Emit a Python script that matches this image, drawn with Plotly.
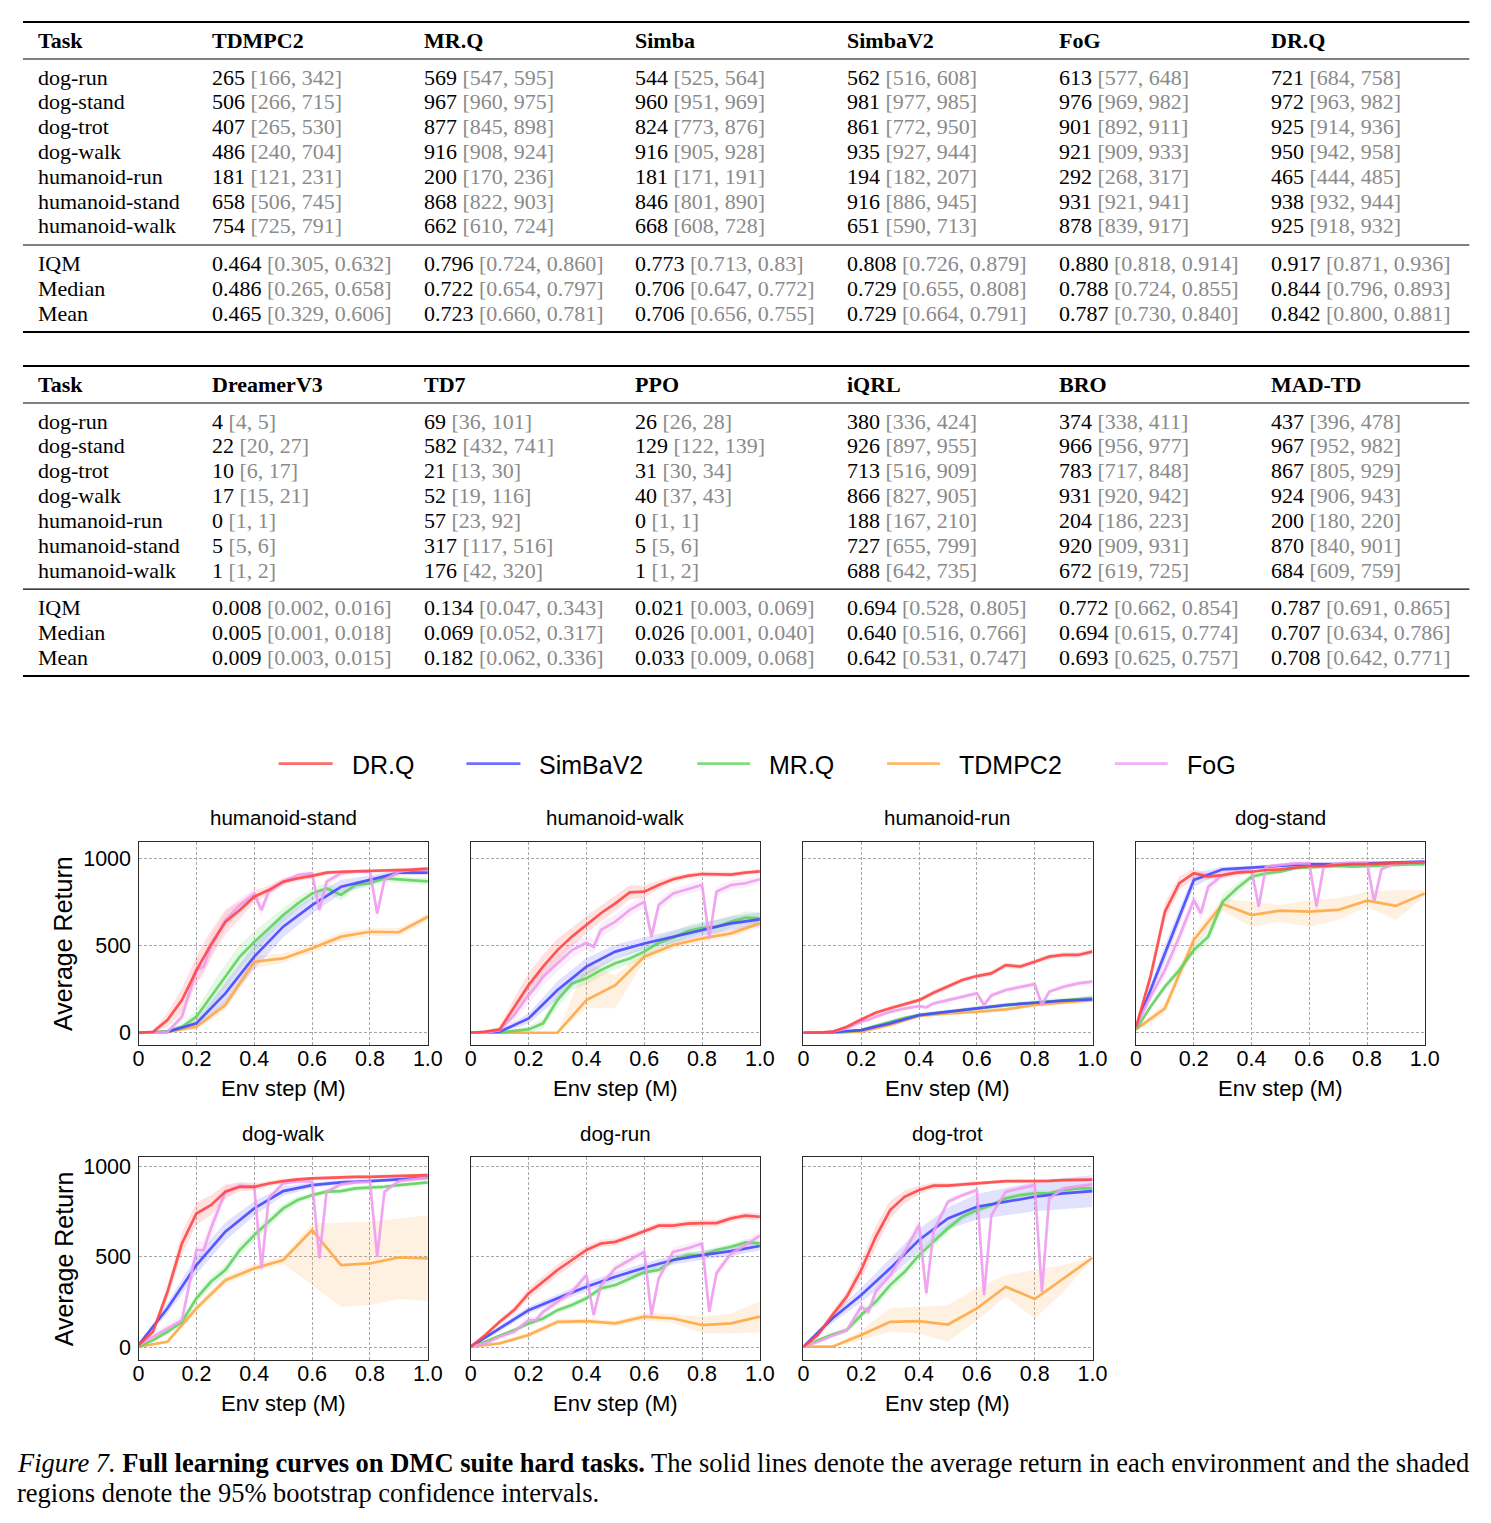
import plotly.graph_objects as go

W, H = 1491, 1523
# small calibration of the page-to-screenshot mapping observed in the renderer
X_OFF, X_SCALE = 5.0, 0.987
Y_TOP_SHIFT = 3.0
TEXT_XSHIFT = -3  # compensates the annotation box padding for left-aligned text


def fx(p):
    return (p - X_OFF) / X_SCALE / W


def fy(p):
    return 1 - (p - Y_TOP_SHIFT * max(0.0, 1 - p / 1493)) / H


# ------------------------------------------------------------------ tables
TABLE_TASKS = ["dog-run", "dog-stand", "dog-trot", "dog-walk",
               "humanoid-run", "humanoid-stand", "humanoid-walk"]
AGG_NAMES = ["IQM", "Median", "Mean"]

TDMPC2_TABLE = [("265", "166", "342"), ("506", "266", "715"), ("407", "265", "530"), ("486", "240", "704"),
                ("181", "121", "231"), ("658", "506", "745"), ("754", "725", "791"),
                ("0.464", "0.305", "0.632"), ("0.486", "0.265", "0.658"), ("0.465", "0.329", "0.606")]
MRQ_TABLE = [("569", "547", "595"), ("967", "960", "975"), ("877", "845", "898"), ("916", "908", "924"),
             ("200", "170", "236"), ("868", "822", "903"), ("662", "610", "724"),
             ("0.796", "0.724", "0.860"), ("0.722", "0.654", "0.797"), ("0.723", "0.660", "0.781")]
SIMBA_TABLE = [("544", "525", "564"), ("960", "951", "969"), ("824", "773", "876"), ("916", "905", "928"),
               ("181", "171", "191"), ("846", "801", "890"), ("668", "608", "728"),
               ("0.773", "0.713", "0.83"), ("0.706", "0.647", "0.772"), ("0.706", "0.656", "0.755")]
SIMBAV2_TABLE = [("562", "516", "608"), ("981", "977", "985"), ("861", "772", "950"), ("935", "927", "944"),
                 ("194", "182", "207"), ("916", "886", "945"), ("651", "590", "713"),
                 ("0.808", "0.726", "0.879"), ("0.729", "0.655", "0.808"), ("0.729", "0.664", "0.791")]
FOG_TABLE = [("613", "577", "648"), ("976", "969", "982"), ("901", "892", "911"), ("921", "909", "933"),
             ("292", "268", "317"), ("931", "921", "941"), ("878", "839", "917"),
             ("0.880", "0.818", "0.914"), ("0.788", "0.724", "0.855"), ("0.787", "0.730", "0.840")]
DRQ_TABLE = [("721", "684", "758"), ("972", "963", "982"), ("925", "914", "936"), ("950", "942", "958"),
             ("465", "444", "485"), ("938", "932", "944"), ("925", "918", "932"),
             ("0.917", "0.871", "0.936"), ("0.844", "0.796", "0.893"), ("0.842", "0.800", "0.881")]
DREAMERV3_TABLE = [("4", "4", "5"), ("22", "20", "27"), ("10", "6", "17"), ("17", "15", "21"),
                   ("0", "1", "1"), ("5", "5", "6"), ("1", "1", "2"),
                   ("0.008", "0.002", "0.016"), ("0.005", "0.001", "0.018"), ("0.009", "0.003", "0.015")]
TD7_TABLE = [("69", "36", "101"), ("582", "432", "741"), ("21", "13", "30"), ("52", "19", "116"),
             ("57", "23", "92"), ("317", "117", "516"), ("176", "42", "320"),
             ("0.134", "0.047", "0.343"), ("0.069", "0.052", "0.317"), ("0.182", "0.062", "0.336")]
PPO_TABLE = [("26", "26", "28"), ("129", "122", "139"), ("31", "30", "34"), ("40", "37", "43"),
             ("0", "1", "1"), ("5", "5", "6"), ("1", "1", "2"),
             ("0.021", "0.003", "0.069"), ("0.026", "0.001", "0.040"), ("0.033", "0.009", "0.068")]
IQRL_TABLE = [("380", "336", "424"), ("926", "897", "955"), ("713", "516", "909"), ("866", "827", "905"),
              ("188", "167", "210"), ("727", "655", "799"), ("688", "642", "735"),
              ("0.694", "0.528", "0.805"), ("0.640", "0.516", "0.766"), ("0.642", "0.531", "0.747")]
BRO_TABLE = [("374", "338", "411"), ("966", "956", "977"), ("783", "717", "848"), ("931", "920", "942"),
             ("204", "186", "223"), ("920", "909", "931"), ("672", "619", "725"),
             ("0.772", "0.662", "0.854"), ("0.694", "0.615", "0.774"), ("0.693", "0.625", "0.757")]
MADTD_TABLE = [("437", "396", "478"), ("967", "952", "982"), ("867", "805", "929"), ("924", "906", "943"),
               ("200", "180", "220"), ("870", "840", "901"), ("684", "609", "759"),
               ("0.787", "0.691", "0.865"), ("0.707", "0.634", "0.786"), ("0.708", "0.642", "0.771")]

TABLE1 = [("TDMPC2", TDMPC2_TABLE), ("MR.Q", MRQ_TABLE), ("Simba", SIMBA_TABLE),
          ("SimbaV2", SIMBAV2_TABLE), ("FoG", FOG_TABLE), ("DR.Q", DRQ_TABLE)]
TABLE2 = [("DreamerV3", DREAMERV3_TABLE), ("TD7", TD7_TABLE), ("PPO", PPO_TABLE),
          ("iQRL", IQRL_TABLE), ("BRO", BRO_TABLE), ("MAD-TD", MADTD_TABLE)]

# ------------------------------------------------------------------ curves
PLOT_TASKS = ["humanoid-stand", "humanoid-walk", "humanoid-run", "dog-stand",
              "dog-walk", "dog-run", "dog-trot"]

X_FINE = [0.0, 0.05, 0.1, 0.15, 0.2, 0.25, 0.3, 0.35, 0.4, 0.45, 0.5,
          0.55, 0.6, 0.65, 0.7, 0.75, 0.8, 0.85, 0.9, 0.95, 1.0]
X_COARSE = [0.0, 0.1, 0.2, 0.3, 0.4, 0.5, 0.6, 0.7, 0.8, 0.9, 1.0]
X_FOG = [0.0, 0.05, 0.1, 0.15, 0.2, 0.225, 0.25, 0.3, 0.35, 0.4, 0.425, 0.45, 0.5,
         0.55, 0.6, 0.625, 0.65, 0.7, 0.75, 0.8, 0.825, 0.85, 0.9, 0.95, 1.0]

DRQ_MEAN = {
    "humanoid-stand": [0, 5, 73, 187, 358, 505, 635, 704, 780, 818, 866, 885, 899, 918, 923, 925, 929, 929, 931, 935, 941],
    "humanoid-walk": [0, 6, 19, 149, 273, 379, 474, 551, 618, 685, 742, 805, 809, 847, 880, 899, 910, 910, 906, 918, 925],
    "humanoid-run": [0, 0, 6, 34, 76, 115, 140, 164, 187, 229, 264, 302, 325, 340, 388, 379, 407, 436, 446, 446, 465],
    "dog-stand": [34, 321, 694, 857, 914, 895, 904, 918, 923, 933, 937, 948, 956, 956, 962, 967, 967, 971, 971, 975, 977],
    "dog-walk": [15, 88, 308, 574, 739, 785, 859, 886, 886, 904, 917, 927, 932, 936, 938, 941, 941, 943, 947, 950, 950],
    "dog-run": [6, 70, 143, 207, 299, 363, 428, 483, 538, 574, 583, 611, 642, 672, 672, 683, 686, 686, 712, 727, 721],
    "dog-trot": [6, 70, 180, 281, 428, 611, 758, 831, 868, 892, 892, 899, 905, 910, 917, 917, 917, 919, 923, 925, 925],
}
DRQ_CI = {
    "humanoid-stand": [0, 5, 40, 70, 80, 80, 70, 50, 35, 25, 20, 15, 15, 12, 10, 10, 10, 10, 10, 10, 10],
    "humanoid-walk": [0, 3, 15, 50, 70, 70, 65, 55, 50, 45, 45, 40, 35, 25, 20, 15, 15, 15, 15, 12, 12],
    "humanoid-run": [0, 0, 3, 8, 12, 12, 12, 12, 14, 14, 14, 14, 14, 14, 15, 15, 15, 15, 15, 15, 15],
    "dog-stand": [10, 40, 50, 40, 25, 20, 15, 15, 12, 10, 10, 10, 8, 8, 8, 8, 8, 8, 8, 8, 8],
    "dog-walk": [5, 15, 40, 60, 60, 55, 40, 25, 20, 15, 12, 10, 10, 10, 10, 10, 10, 10, 10, 10, 10],
    "dog-run": [3, 10, 15, 20, 30, 30, 30, 30, 25, 20, 20, 18, 18, 18, 18, 18, 18, 18, 18, 18, 18],
    "dog-trot": [3, 12, 20, 30, 50, 60, 50, 35, 25, 18, 15, 12, 12, 10, 10, 10, 10, 10, 10, 10, 10],
}

SIMBAV2_MEAN = {
    "humanoid-stand": [0, 5, 54, 226, 436, 608, 732, 837, 876, 918, 918],
    "humanoid-walk": [0, 6, 82, 245, 379, 465, 512, 551, 589, 627, 650],
    "humanoid-run": [0, 4, 15, 54, 101, 120, 140, 159, 172, 184, 191],
    "dog-stand": [34, 455, 876, 937, 948, 958, 967, 967, 971, 975, 981],
    "dog-walk": [15, 217, 455, 639, 767, 862, 895, 910, 917, 925, 936],
    "dog-run": [6, 106, 207, 272, 336, 391, 440, 483, 510, 532, 560],
    "dog-trot": [6, 161, 290, 437, 593, 712, 776, 804, 831, 850, 862],
}
SIMBAV2_CI = {
    "humanoid-stand": [0, 5, 20, 60, 70, 60, 50, 40, 25, 15, 15],
    "humanoid-walk": [0, 5, 30, 50, 50, 40, 35, 35, 35, 40, 40],
    "humanoid-run": [0, 2, 5, 10, 10, 10, 10, 10, 10, 10, 10],
    "dog-stand": [10, 50, 40, 15, 10, 8, 8, 8, 8, 8, 8],
    "dog-walk": [5, 30, 50, 50, 40, 25, 15, 12, 10, 10, 10],
    "dog-run": [3, 15, 20, 20, 25, 25, 25, 25, 25, 25, 25],
    "dog-trot": [3, 25, 40, 55, 60, 60, 70, 75, 80, 85, 87],
}

MRQ_MEAN = {
    "humanoid-stand": [0, 0, 10, 34, 92, 206, 321, 436, 520, 600, 675, 740, 799, 828, 790, 847, 857, 885, 880, 876, 868],
    "humanoid-walk": [0, 0, 2, 11, 19, 54, 187, 283, 312, 359, 398, 426, 465, 516, 545, 583, 602, 608, 637, 660, 656],
    "humanoid-run": [0, 0, 2, 6, 15, 40, 63, 85, 101, 112, 120, 130, 140, 150, 159, 166, 172, 180, 187, 193, 200],
    "dog-stand": [19, 149, 264, 359, 474, 551, 751, 828, 895, 914, 924, 943, 948, 952, 956, 952, 956, 956, 962, 965, 967],
    "dog-walk": [6, 42, 88, 143, 272, 363, 428, 538, 620, 693, 767, 813, 840, 859, 862, 877, 881, 886, 895, 904, 910],
    "dog-run": [6, 33, 66, 97, 134, 161, 207, 235, 272, 327, 345, 382, 415, 428, 483, 510, 510, 538, 556, 580, 574],
    "dog-trot": [6, 42, 73, 97, 180, 253, 345, 418, 510, 584, 657, 721, 758, 785, 822, 840, 850, 850, 868, 877, 877],
}
MRQ_CI = {
    "humanoid-stand": [0, 0, 10, 20, 40, 60, 70, 70, 60, 50, 40, 35, 30, 30, 30, 25, 20, 20, 20, 20, 20],
    "humanoid-walk": [0, 0, 3, 10, 20, 30, 40, 40, 35, 35, 35, 35, 40, 35, 35, 35, 35, 40, 35, 35, 35],
    "humanoid-run": [0, 0, 2, 4, 6, 8, 10, 10, 12, 12, 12, 12, 14, 14, 14, 14, 14, 14, 15, 15, 15],
    "dog-stand": [8, 15, 20, 25, 30, 40, 40, 30, 20, 15, 12, 10, 10, 10, 10, 10, 10, 10, 10, 8, 8],
    "dog-walk": [3, 10, 15, 20, 25, 30, 30, 30, 30, 30, 25, 20, 15, 15, 15, 15, 15, 12, 12, 12, 12],
    "dog-run": [3, 8, 10, 12, 15, 15, 15, 18, 18, 18, 18, 18, 18, 18, 18, 18, 18, 18, 18, 18, 18],
    "dog-trot": [3, 8, 12, 15, 20, 25, 30, 30, 30, 30, 25, 20, 20, 15, 15, 15, 15, 15, 15, 15, 15],
}

TDMPC2_MEAN = {
    "humanoid-stand": [0, 5, 34, 159, 407, 426, 484, 551, 579, 576, 665],
    "humanoid-walk": [0, 0, 0, 0, 187, 273, 436, 503, 541, 570, 627],
    "humanoid-run": [0, 0, 6, 44, 96, 111, 120, 134, 159, 172, 187],
    "dog-stand": [19, 140, 532, 738, 675, 700, 694, 704, 757, 727, 799],
    "dog-walk": [6, 33, 217, 372, 437, 483, 648, 455, 464, 497, 492],
    "dog-run": [6, 24, 70, 143, 147, 134, 171, 161, 125, 134, 171],
    "dog-trot": [6, 6, 70, 143, 147, 128, 217, 336, 268, 382, 495],
}
TDMPC2_LO = {
    "humanoid-stand": [0, 0, 20, 130, 370, 400, 460, 525, 555, 555, 645],
    "humanoid-walk": [0, 0, 0, 0, 140, 140, 410, 480, 520, 550, 605],
    "humanoid-run": [0, 0, 2, 35, 86, 100, 110, 124, 147, 160, 175],
    "dog-stand": [10, 110, 490, 700, 608, 637, 608, 646, 723, 646, 780],
    "dog-walk": [2, 25, 195, 350, 415, 460, 345, 226, 235, 268, 257],
    "dog-run": [3, 16, 55, 128, 132, 119, 151, 136, 80, 79, 86],
    "dog-trot": [2, 2, 42, 88, 79, 33, 152, 281, 161, 308, 490],
}
TDMPC2_HI = {
    "humanoid-stand": [0, 10, 50, 190, 440, 455, 510, 575, 600, 600, 685],
    "humanoid-walk": [0, 0, 0, 0, 400, 330, 460, 525, 560, 590, 650],
    "humanoid-run": [0, 0, 10, 53, 106, 122, 130, 144, 171, 184, 199],
    "dog-stand": [30, 170, 570, 770, 751, 732, 761, 771, 809, 818, 818],
    "dog-walk": [10, 42, 240, 395, 460, 505, 684, 690, 694, 712, 730],
    "dog-run": [9, 32, 85, 158, 162, 149, 191, 186, 170, 189, 256],
    "dog-trot": [10, 10, 97, 217, 226, 235, 327, 400, 428, 455, 500],
}

FOG_MEAN = {
    "humanoid-stand": [0, 0, 5, 92, 360, 380, 493, 646, 732, 793, 704, 809, 866, 904, 914, 704, 866, 914, 923, 923, 684, 876, 923, 937, 937],
    "humanoid-walk": [0, 0, 15, 101, 216, 264, 321, 398, 474, 516, 493, 589, 637, 704, 751, 551, 732, 799, 822, 847, 541, 809, 847, 857, 880],
    "humanoid-run": [0, 0, 6, 25, 63, 75, 92, 120, 139, 153, 145, 168, 187, 206, 226, 159, 214, 245, 264, 279, 159, 235, 264, 283, 293],
    "dog-stand": [34, 207, 360, 551, 761, 685, 837, 904, 923, 933, 723, 952, 962, 971, 971, 723, 952, 971, 975, 975, 751, 937, 971, 975, 977],
    "dog-walk": [15, 61, 110, 152, 538, 538, 657, 859, 892, 886, 437, 822, 905, 917, 914, 492, 859, 899, 910, 914, 501, 859, 917, 928, 936],
    "dog-run": [6, 24, 61, 88, 152, 152, 198, 253, 308, 400, 180, 345, 437, 483, 528, 180, 382, 528, 547, 574, 198, 411, 519, 565, 617],
    "dog-trot": [6, 33, 66, 97, 226, 198, 308, 400, 528, 675, 299, 640, 804, 840, 868, 290, 730, 859, 877, 895, 308, 822, 877, 886, 899],
}
FOG_CI = {
    "humanoid-stand": [0, 0, 5, 30, 60, 60, 60, 50, 40, 30, 40, 30, 20, 15, 15, 40, 20, 15, 12, 12, 40, 20, 12, 10, 10],
    "humanoid-walk": [0, 0, 10, 40, 50, 50, 50, 50, 45, 40, 40, 40, 40, 35, 35, 40, 35, 30, 30, 30, 40, 30, 25, 25, 20],
    "humanoid-run": [0, 0, 3, 8, 10, 10, 10, 12, 12, 12, 12, 12, 14, 14, 14, 14, 14, 15, 15, 15, 15, 15, 15, 15, 15],
    "dog-stand": [10, 30, 40, 50, 40, 40, 30, 20, 15, 12, 30, 10, 8, 8, 8, 30, 10, 8, 8, 8, 30, 10, 8, 8, 8],
    "dog-walk": [5, 15, 20, 30, 50, 50, 50, 30, 15, 15, 40, 20, 10, 10, 10, 40, 15, 10, 10, 10, 40, 15, 10, 10, 10],
    "dog-run": [3, 8, 12, 15, 20, 20, 20, 20, 25, 25, 30, 25, 25, 25, 25, 30, 25, 25, 25, 25, 30, 25, 25, 25, 25],
    "dog-trot": [3, 8, 12, 15, 25, 25, 30, 30, 30, 40, 40, 30, 20, 15, 15, 40, 20, 12, 12, 12, 40, 20, 12, 12, 12],
}

X_TICKS = [0, 0.2, 0.4, 0.6, 0.8, 1.0]
X_TICK_TEXT = ["0", "0.2", "0.4", "0.6", "0.8", "1.0"]
Y_TICKS = [0, 500, 1000]

LEGEND_ORDER = ["DR.Q", "SimBaV2", "MR.Q", "TDMPC2", "FoG"]
COLORS = {"DR.Q": "255,70,70", "SimBaV2": "72,72,255", "MR.Q": "95,211,95",
          "TDMPC2": "255,168,69", "FoG": "238,156,238"}


def band_from_ci(mean, ci):
    return [m - c for m, c in zip(mean, ci)], [m + c for m, c in zip(mean, ci)]


SERIES = [  # bottom -> top
    ("TDMPC2", X_COARSE, TDMPC2_MEAN, lambda t: (TDMPC2_LO[t], TDMPC2_HI[t])),
    ("MR.Q", X_FINE, MRQ_MEAN, lambda t: band_from_ci(MRQ_MEAN[t], MRQ_CI[t])),
    ("SimBaV2", X_COARSE, SIMBAV2_MEAN, lambda t: band_from_ci(SIMBAV2_MEAN[t], SIMBAV2_CI[t])),
    ("FoG", X_FOG, FOG_MEAN, lambda t: band_from_ci(FOG_MEAN[t], FOG_CI[t])),
    ("DR.Q", X_FINE, DRQ_MEAN, lambda t: band_from_ci(DRQ_MEAN[t], DRQ_CI[t])),
]

# panel geometry (pixels)
COL_PX = [(137.7, 427.3), (470.3, 759.7), (803.3, 1092.7), (1136.3, 1425.3)]
ROW_PX = [(841.7, 1045.0), (1157.3, 1360.0)]
ROW_YRANGE = [[-70.5, 1095], [-67.7, 1048]]

SANS = "Liberation Sans, Arial, sans-serif"
SERIF = "Liberation Serif, Times New Roman, serif"

fig = go.Figure()
annotations = []
shapes = []

for i, task in enumerate(PLOT_TASKS):
    r, c = divmod(i, 4)
    n = i + 1
    xa = "x" if n == 1 else f"x{n}"
    ya = "y" if n == 1 else f"y{n}"
    for name, xs, means, bandf in SERIES:
        lo, hi = bandf(task)
        fig.add_trace(go.Scatter(
            x=xs + xs[::-1], y=hi + lo[::-1], fill="toself",
            fillcolor=f"rgba({COLORS[name]},0.16)", line=dict(width=0),
            mode="lines", hoverinfo="skip", showlegend=False, xaxis=xa, yaxis=ya))
    for name, xs, means, bandf in SERIES:
        fig.add_trace(go.Scatter(
            x=xs, y=means[task], mode="lines", name=name,
            line=dict(color=f"rgba({COLORS[name]},0.9)", width=2.7),
            showlegend=False, xaxis=xa, yaxis=ya))

    x0, x1 = COL_PX[c]
    y0, y1 = ROW_PX[r]
    axis_common = dict(showgrid=True, gridcolor="#a8a8a8", griddash="3px,2px", gridwidth=1,
                       showline=True, mirror=True, linecolor="#2a2a2a", linewidth=1.4,
                       ticks="", zeroline=False,
                       tickfont=dict(family=SANS, size=21.5, color="black"))
    fig.layout[("xaxis" if n == 1 else f"xaxis{n}")] = dict(
        domain=[fx(x0), fx(x1)], range=[0, 1], anchor=ya,
        tickvals=X_TICKS, ticktext=X_TICK_TEXT, ticklabelstandoff=-6, **axis_common)
    fig.layout[("yaxis" if n == 1 else f"yaxis{n}")] = dict(
        domain=[fy(y1), fy(y0)], range=ROW_YRANGE[r], anchor=xa,
        tickvals=Y_TICKS, showticklabels=(c == 0), ticklabelstandoff=2, **axis_common)

    cx = fx((x0 + x1) / 2)
    annotations.append(dict(text=task, x=cx, y=fy(y0 - 24), xref="paper", yref="paper",
                            showarrow=False, xanchor="center", yanchor="middle",
                            font=dict(family=SANS, size=20.5, color="black")))
    annotations.append(dict(text="Env step (M)", x=cx, y=fy(y1 + 43), xref="paper", yref="paper",
                            showarrow=False, xanchor="center", yanchor="middle",
                            font=dict(family=SANS, size=22, color="black")))
    if c == 0:
        annotations.append(dict(text="Average Return", x=fx(62.7), y=fy((y0 + y1) / 2),
                                xref="paper", yref="paper", showarrow=False, textangle=-90,
                                xanchor="center", yanchor="middle",
                                font=dict(family=SANS, size=25, color="black")))

# ------------------------------------------------------------------ legend (drawn)
LEG_LINE_X = [(278, 332), (466, 520), (697, 750), (887, 940), (1115, 1168)]
for name, (lx0, lx1) in zip(LEGEND_ORDER, LEG_LINE_X):
    shapes.append(dict(type="line", xref="paper", yref="paper", x0=fx(lx0), x1=fx(lx1),
                       y0=fy(763.5), y1=fy(763.5),
                       line=dict(color=f"rgba({COLORS[name]},0.8)", width=2.7)))
    annotations.append(dict(text=name, x=fx(lx1 + 20), y=fy(765), xref="paper", yref="paper",
                            showarrow=False, xanchor="left", yanchor="middle", xshift=TEXT_XSHIFT,
                            font=dict(family=SANS, size=25, color="black")))

# ------------------------------------------------------------------ tables (drawn)
COL_X = [38, 212, 424, 636, 848, 1060, 1272]
ROW_STEP = 24.83
GRAY = "#8a8a8a"


def cell(t):
    v, lo, hi = t
    return f"{v} <span style='color:{GRAY}'>[{lo}, {hi}]</span>"


def add_text(txt, xp, yp, size=22):
    annotations.append(dict(text=txt, x=fx(xp), y=fy(yp), xref="paper", yref="paper",
                            showarrow=False, xanchor="left", yanchor="middle", xshift=TEXT_XSHIFT,
                            font=dict(family=SERIF, size=size, color="black")))


for off, table in [(0, TABLE1), (344, TABLE2)]:
    for yy, wdt in [(22, 2.0), (59, 1.2), (245, 1.2), (332, 2.0)]:
        shapes.append(dict(type="line", xref="paper", yref="paper", x0=fx(22), x1=fx(1470),
                           y0=fy(yy + off), y1=fy(yy + off), line=dict(color="black", width=wdt)))
    add_text("<b>Task</b>", COL_X[0], 40 + off)
    for k, (mname, rows) in enumerate(table):
        add_text(f"<b>{mname}</b>", COL_X[k + 1], 40 + off)
    for j, tname in enumerate(TABLE_TASKS):
        ypos = 77 + off + j * ROW_STEP
        add_text(tname, COL_X[0], ypos)
        for k, (mname, rows) in enumerate(table):
            add_text(cell(rows[j]), COL_X[k + 1], ypos)
    for j, aname in enumerate(AGG_NAMES):
        ypos = 263 + off + j * 25
        add_text(aname, COL_X[0], ypos)
        for k, (mname, rows) in enumerate(table):
            add_text(cell(rows[7 + j]), COL_X[k + 1], ypos)

# ------------------------------------------------------------------ caption
CAPTION_1 = ("<i>Figure 7.</i> <b>Full learning curves on DMC suite hard tasks.</b> "
             "The solid lines denote the average return in each environment and the shaded")
CAPTION_2 = "regions denote the 95% bootstrap confidence intervals."
add_text(CAPTION_1, 17, 1463, size=26.5)
add_text(CAPTION_2, 17, 1493, size=26.5)

fig.update_layout(width=W, height=H, margin=dict(l=0, r=0, t=0, b=0),
                  paper_bgcolor="white", plot_bgcolor="white",
                  showlegend=False, annotations=annotations, shapes=shapes)

fig.write_html("out.html", config={"responsive": False})
